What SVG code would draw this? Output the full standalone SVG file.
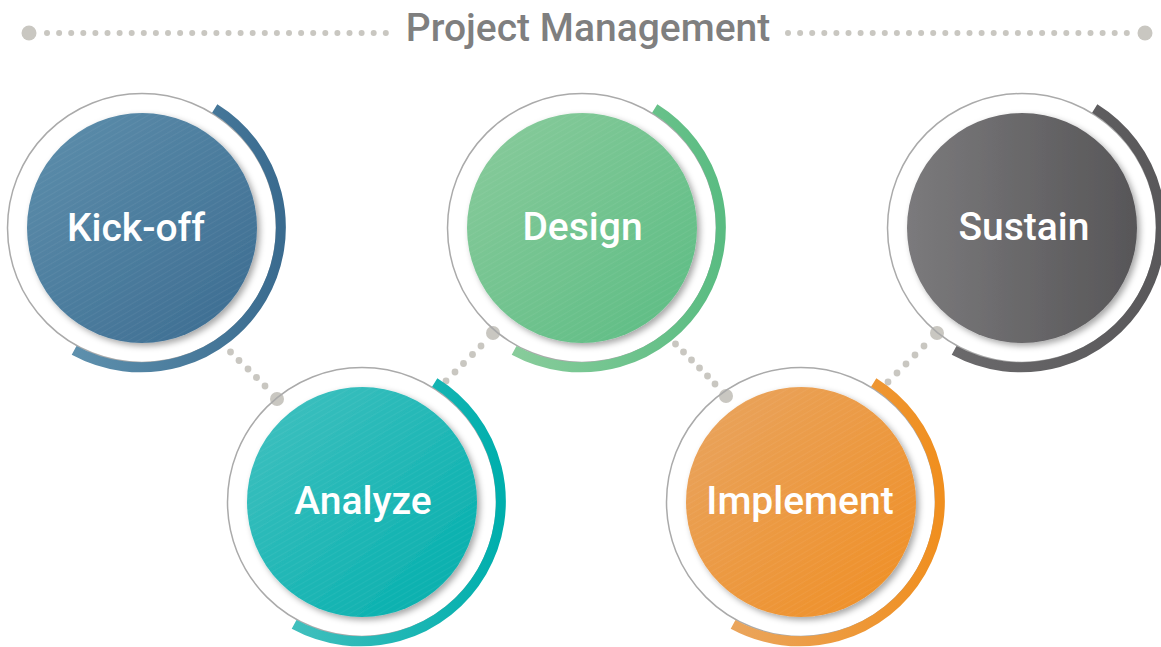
<svg xmlns="http://www.w3.org/2000/svg" width="1161" height="647" viewBox="0 0 1161 647">
<style>
.dot{fill:#c9c7c1}
.ring{fill:none;stroke:#aaaaaa;stroke-width:1.5}
.arc{fill:none;stroke-width:10;stroke-linecap:butt}
.lbl{font-family:Roboto,"Liberation Sans",sans-serif;font-weight:500;font-size:39px;fill:#ffffff;text-anchor:middle}
.title{font-family:Roboto,"Liberation Sans",sans-serif;font-weight:500;font-size:39px;fill:#7f7f7f;text-anchor:middle}
</style>
<defs>
<filter id="sh" x="-20%" y="-20%" width="140%" height="140%">
<feDropShadow dx="3" dy="3" stdDeviation="3" flood-color="#000" flood-opacity="0.35"/>
</filter>
<pattern id="stripes" width="5" height="5" patternUnits="userSpaceOnUse" patternTransform="rotate(-30)">
<line x1="0" y1="0" x2="5" y2="0" stroke="#ffffff" stroke-opacity="0.1" stroke-width="1"/>
</pattern>
<linearGradient id="gK" x1="0" y1="0" x2="1" y2="1"><stop offset="0" stop-color="#5e8fac"/><stop offset="1" stop-color="#3b6b90"/></linearGradient>
<linearGradient id="gA" x1="0" y1="0" x2="1" y2="1"><stop offset="0" stop-color="#43c1c0"/><stop offset="1" stop-color="#00aeac"/></linearGradient>
<linearGradient id="gD" x1="0" y1="0" x2="1" y2="1"><stop offset="0" stop-color="#8acb9c"/><stop offset="1" stop-color="#5bbc83"/></linearGradient>
<linearGradient id="gI" x1="0" y1="0" x2="1" y2="1"><stop offset="0" stop-color="#e8a562"/><stop offset="1" stop-color="#f08e22"/></linearGradient>
<linearGradient id="gS" x1="0" y1="0" x2="1" y2="0"><stop offset="0" stop-color="#7b7a7c"/><stop offset="1" stop-color="#575658"/></linearGradient>
<linearGradient id="aK" x1="0" y1="0" x2="1" y2="0"><stop offset="0" stop-color="#5e90ad"/><stop offset="1" stop-color="#3a6b8f"/></linearGradient>
<linearGradient id="aA" x1="0" y1="0" x2="1" y2="0"><stop offset="0" stop-color="#40bfbd"/><stop offset="1" stop-color="#00afad"/></linearGradient>
<linearGradient id="aD" x1="0" y1="0" x2="1" y2="0"><stop offset="0" stop-color="#88cc9b"/><stop offset="1" stop-color="#5abc82"/></linearGradient>
<linearGradient id="aI" x1="0" y1="0" x2="1" y2="0"><stop offset="0" stop-color="#eaa55c"/><stop offset="1" stop-color="#f08f1f"/></linearGradient>
<linearGradient id="aS" x1="0" y1="0" x2="1" y2="0"><stop offset="0" stop-color="#6a696b"/><stop offset="1" stop-color="#59585a"/></linearGradient>
<path id="arcShape" d="M 72.7 -119.6 A 140 140 0 0 1 -67.9 122.4"/>
</defs>

<g id="header">
<circle class="dot" cx="29" cy="33" r="7.5"/>
<g class="dot">
<circle cx="47" cy="33" r="3"/><circle cx="59.1" cy="33" r="3"/><circle cx="71.2" cy="33" r="3"/><circle cx="83.3" cy="33" r="3"/><circle cx="95.4" cy="33" r="3"/><circle cx="107.5" cy="33" r="3"/><circle cx="119.6" cy="33" r="3"/><circle cx="131.7" cy="33" r="3"/><circle cx="143.8" cy="33" r="3"/><circle cx="155.9" cy="33" r="3"/><circle cx="168" cy="33" r="3"/><circle cx="180.1" cy="33" r="3"/><circle cx="192.2" cy="33" r="3"/><circle cx="204.3" cy="33" r="3"/><circle cx="216.4" cy="33" r="3"/><circle cx="228.5" cy="33" r="3"/><circle cx="240.6" cy="33" r="3"/><circle cx="252.7" cy="33" r="3"/><circle cx="264.8" cy="33" r="3"/><circle cx="276.9" cy="33" r="3"/><circle cx="289" cy="33" r="3"/><circle cx="301.1" cy="33" r="3"/><circle cx="313.2" cy="33" r="3"/><circle cx="325.3" cy="33" r="3"/><circle cx="337.4" cy="33" r="3"/><circle cx="349.5" cy="33" r="3"/><circle cx="361.6" cy="33" r="3"/><circle cx="373.7" cy="33" r="3"/><circle cx="385.8" cy="33" r="3"/>
<circle cx="788" cy="33" r="3"/><circle cx="800.1" cy="33" r="3"/><circle cx="812.2" cy="33" r="3"/><circle cx="824.3" cy="33" r="3"/><circle cx="836.4" cy="33" r="3"/><circle cx="848.5" cy="33" r="3"/><circle cx="860.6" cy="33" r="3"/><circle cx="872.7" cy="33" r="3"/><circle cx="884.8" cy="33" r="3"/><circle cx="896.9" cy="33" r="3"/><circle cx="909" cy="33" r="3"/><circle cx="921.1" cy="33" r="3"/><circle cx="933.2" cy="33" r="3"/><circle cx="945.3" cy="33" r="3"/><circle cx="957.4" cy="33" r="3"/><circle cx="969.5" cy="33" r="3"/><circle cx="981.6" cy="33" r="3"/><circle cx="993.7" cy="33" r="3"/><circle cx="1005.8" cy="33" r="3"/><circle cx="1017.9" cy="33" r="3"/><circle cx="1030" cy="33" r="3"/><circle cx="1042.1" cy="33" r="3"/><circle cx="1054.2" cy="33" r="3"/><circle cx="1066.3" cy="33" r="3"/><circle cx="1078.4" cy="33" r="3"/><circle cx="1090.5" cy="33" r="3"/><circle cx="1102.6" cy="33" r="3"/><circle cx="1114.7" cy="33" r="3"/><circle cx="1126.8" cy="33" r="3"/>
</g>
<circle class="dot" cx="1145" cy="33" r="7.5"/>
<text class="title" x="588" y="41">Project Management</text>
</g>

<g id="connectors" class="dot">
<circle cx="277" cy="399" r="7"/>
<circle cx="265" cy="386" r="3.4"/><circle cx="256.5" cy="377.5" r="3.4"/><circle cx="248" cy="369" r="3.4"/><circle cx="239" cy="360.5" r="3.4"/><circle cx="230.5" cy="352" r="3.4"/>
<circle cx="493" cy="333" r="7"/>
<circle cx="481" cy="346" r="3.4"/><circle cx="472.5" cy="354.5" r="3.4"/><circle cx="463.5" cy="363.5" r="3.4"/><circle cx="455" cy="372" r="3.4"/><circle cx="446" cy="381" r="3.4"/>
<circle cx="726" cy="396" r="7"/>
<circle cx="715" cy="384" r="3.4"/><circle cx="707.5" cy="376" r="3.4"/><circle cx="699.5" cy="368" r="3.4"/><circle cx="691.5" cy="360" r="3.4"/><circle cx="683.5" cy="352" r="3.4"/><circle cx="675.5" cy="344" r="3.4"/>
<circle cx="937" cy="333" r="7"/>
<circle cx="924" cy="346" r="3.4"/><circle cx="915" cy="355" r="3.4"/><circle cx="906" cy="364" r="3.4"/><circle cx="897" cy="373" r="3.4"/><circle cx="888" cy="382" r="3.4"/>
</g>

<g id="node-kickoff" transform="translate(142,228)">
<circle class="ring" r="134.5"/>
<use href="#arcShape" class="arc" stroke="url(#aK)"/>
<circle r="115" fill="url(#gK)" filter="url(#sh)"/>
<circle r="115" fill="url(#stripes)"/>
<text class="lbl" x="-6" y="13">Kick-off</text>
</g>

<g id="node-analyze" transform="translate(362,502)">
<circle class="ring" r="134.5"/>
<use href="#arcShape" class="arc" stroke="url(#aA)"/>
<circle r="115" fill="url(#gA)" filter="url(#sh)"/>
<circle r="115" fill="url(#stripes)"/>
<text class="lbl" x="1" y="12">Analyze</text>
</g>

<g id="node-design" transform="translate(582,228)">
<circle class="ring" r="134.5"/>
<use href="#arcShape" class="arc" stroke="url(#aD)"/>
<circle r="115" fill="url(#gD)" filter="url(#sh)"/>
<circle r="115" fill="url(#stripes)"/>
<text class="lbl" x="0.5" y="12">Design</text>
</g>

<g id="node-implement" transform="translate(801,502)">
<circle class="ring" r="134.5"/>
<use href="#arcShape" class="arc" stroke="url(#aI)"/>
<circle r="115" fill="url(#gI)" filter="url(#sh)"/>
<circle r="115" fill="url(#stripes)"/>
<text class="lbl" x="-1" y="12">Implement</text>
</g>

<g id="node-sustain" transform="translate(1022,228)">
<circle class="ring" r="134.5"/>
<use href="#arcShape" class="arc" stroke="url(#aS)"/>
<circle r="115" fill="url(#gS)" filter="url(#sh)"/>
<text class="lbl" x="2" y="12">Sustain</text>
</g>
</svg>
